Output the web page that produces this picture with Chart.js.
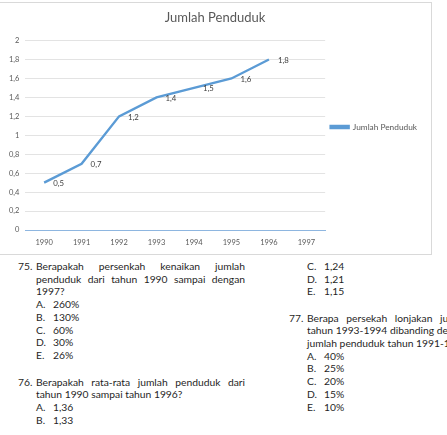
<!DOCTYPE html>
<html>
<head>
<meta charset="utf-8">
<script src="https://cdn.jsdelivr.net/npm/chart.js@4"></script>
<style>
  body { margin: 0; width: 447px; height: 435px; overflow: hidden; background: #fff; position: relative; }
  .kotak { position: absolute; left: -1px; top: 2px; width: 431px; height: 251px; border: 1px solid #d9d9d9; }
  canvas { display: block; }
  .soal { position: absolute; font-family: Lato, sans-serif; font-size: 10.3px; line-height: 12.7px; color: #1f1f1f; white-space: nowrap; }
  .soal .no { position: absolute; left: -18px; }
  .soal .j { text-align: justify; text-align-last: justify; white-space: normal; }
  .soal .opsi span { display: inline-block; width: 17px; }
</style>
</head>
<body>
<div class="kotak"><canvas id="grafik" width="431" height="251"></canvas></div>

<div class="soal" style="left:36px; top:260px; width:209px">
  <div class="no">75.</div>
  <div class="j">Berapakah persenkah kenaikan jumlah</div>
  <div class="j">penduduk dari tahun 1990 sampai dengan</div>
  <div>1997?</div>
  <div class="opsi"><span>A.</span>260%</div>
  <div class="opsi"><span>B.</span>130%</div>
  <div class="opsi"><span>C.</span>60%</div>
  <div class="opsi"><span>D.</span>30%</div>
  <div class="opsi"><span>E.</span>26%</div>
</div>

<div class="soal" style="left:36px; top:375.6px; width:209px">
  <div class="no">76.</div>
  <div class="j">Berapakah rata-rata jumlah penduduk dari</div>
  <div>tahun 1990 sampai tahun 1996?</div>
  <div class="opsi"><span>A.</span>1,36</div>
  <div class="opsi"><span>B.</span>1,33</div>
</div>

<div class="soal" style="left:307px; top:260px; width:163px">
  <div class="opsi"><span>C.</span>1,24</div>
  <div class="opsi"><span>D.</span>1,21</div>
  <div class="opsi"><span>E.</span>1,15</div>
</div>

<div class="soal" style="left:307px; top:311.6px; width:163px">
  <div class="no">77.</div>
  <div class="j">Berapa persekah lonjakan jumlah</div>
  <div class="j">tahun 1993-1994 dibanding dengan</div>
  <div>jumlah penduduk tahun 1991-1992?</div>
  <div class="opsi"><span>A.</span>40%</div>
  <div class="opsi"><span>B.</span>25%</div>
  <div class="opsi"><span>C.</span>20%</div>
  <div class="opsi"><span>D.</span>15%</div>
  <div class="opsi"><span>E.</span>10%</div>
</div>

<script>
// data grafik
const tahun = ['1990', '1991', '1992', '1993', '1994', '1995', '1996', '1997']
const jumlahPenduduk = [0.5, 0.7, 1.2, 1.4, 1.5, 1.6, 1.8, null]

const abu = '#595959'

function koma(v) {
  return String(Math.round(v * 10) / 10).replace('.', ',')
}

// label angka di samping titik
const labelTitik = {
  id: 'labelTitik',
  afterDatasetsDraw(chart) {
    const ctx = chart.ctx
    const meta = chart.getDatasetMeta(0)
    ctx.save()
    ctx.font = '7.8px Lato, sans-serif'
    ctx.fillStyle = '#404040'
    ctx.textAlign = 'left'
    ctx.textBaseline = 'middle'
    meta.data.forEach((p, i) => {
      const v = jumlahPenduduk[i]
      if (v == null) return
      ctx.fillText(koma(v), p.x + 9, p.y + 1)
    })
    ctx.restore()
  }
}

new Chart(document.getElementById('grafik'), {
  type: 'line',
  data: {
    labels: tahun,
    datasets: [{
      label: 'Jumlah Penduduk',
      data: jumlahPenduduk,
      borderColor: '#5b9bd5',
      backgroundColor: '#5b9bd5',
      borderWidth: 2.4,
      pointRadius: 0,
      tension: 0
    }]
  },
  options: {
    responsive: false,
    animation: false,
    layout: { padding: { left: 3, right: 4, top: 4, bottom: 7 } },
    plugins: {
      title: {
        display: true,
        text: 'Jumlah Penduduk',
        color: abu,
        font: { family: 'Lato', size: 13, weight: 'normal' },
        padding: { top: 3, bottom: 15 }
      },
      legend: {
        position: 'right',
        labels: {
          color: abu,
          font: { family: 'Lato', size: 8.3 },
          boxWidth: 18,
          boxHeight: 2,
          padding: 5.5
        }
      },
      tooltip: { enabled: false }
    },
    scales: {
      x: {
        offset: true,
        grid: { display: false, drawTicks: false },
        border: { color: '#8eb6e0', width: 1 },
        ticks: { color: abu, font: { family: 'Lato', size: 7.5 }, padding: 8, maxRotation: 0 },
        afterFit: s => { s.height = 17 }
      },
      y: {
        min: 0,
        max: 2,
        ticks: {
          stepSize: 0.2,
          color: abu,
          font: { family: 'Lato', size: 7.5 },
          padding: 6,
          callback: v => koma(v)
        },
        grid: { color: '#e3e3e3', drawTicks: false },
        border: { display: false }
      }
    }
  },
  plugins: [labelTitik]
})
</script>
</body>
</html>
